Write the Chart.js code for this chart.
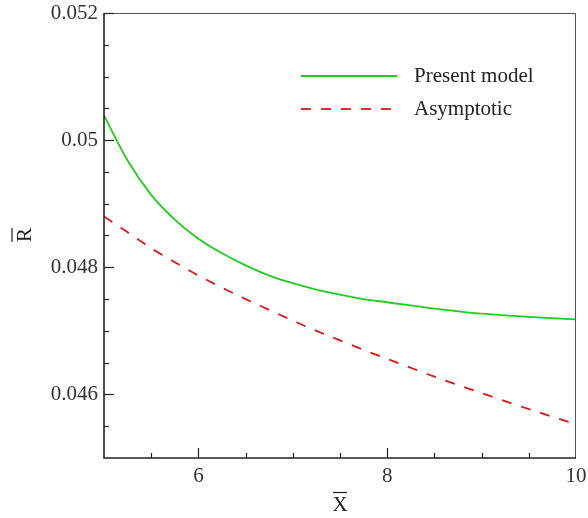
<!DOCTYPE html>
<html>
<head>
<meta charset="utf-8">
<script src="https://cdn.jsdelivr.net/npm/chart.js@4.4.0/dist/chart.umd.min.js"></script>
<style>
    html, body { margin: 0; padding: 0; background: #fff; }
    #wrap { width: 588px; height: 518px; }
</style>
</head>
<body>
<div id="wrap"><canvas id="chart" width="588" height="518"></canvas></div>
<script>
// values
var xValues      = [5.0, 5.25, 5.5, 5.75, 6.0, 6.25, 6.5, 6.75, 7.0, 7.25, 7.5, 7.75, 8.0, 8.5, 9.0, 9.5, 10.0];
var presentModel = [0.05039, 0.04968, 0.04914, 0.04875, 0.04845, 0.04822, 0.04803, 0.04787, 0.04775, 0.04765, 0.04757, 0.04750, 0.04745, 0.04735, 0.04727, 0.04722, 0.04718];
var asymptotic   = [0.04880, 0.04855, 0.04830, 0.04808, 0.04787, 0.04768, 0.04750, 0.04733, 0.04716, 0.04700, 0.04685, 0.04670, 0.04656, 0.04628, 0.04602, 0.04577, 0.04553];
var seriesNames  = ["Present model", "Asymptotic"];
var xTickValues  = [6, 8, 10];
var yTickValues  = [0.046, 0.048, 0.05, 0.052];
var xTitle = "X";
var yTitle = "R";

var serif = "'Liberation Serif', 'Times New Roman', serif";
var green = "#1fcc1f";
var red = "#d81818";

function points(ys) {
    return xValues.map(function(x, i) { return { x: x, y: ys[i] }; });
}

// minor/major inward ticks, frame, axis titles with overbars, legend
var decorations = {
    id: "decorations",
    afterDraw: function(chart) {
        var ctx = chart.ctx, a = chart.chartArea;
        var xs = chart.scales.x, ys = chart.scales.y;
        ctx.save();

        // frame
        ctx.strokeStyle = "#555";
        ctx.lineWidth = 1;
        ctx.beginPath();
        ctx.moveTo(a.left, a.top + 0.5); ctx.lineTo(a.right - 0.5, a.top + 0.5);
        ctx.lineTo(a.right - 0.5, a.bottom);
        ctx.stroke();
        ctx.strokeStyle = "#222";
        ctx.lineWidth = 1.6;
        ctx.beginPath();
        ctx.moveTo(a.left, a.top); ctx.lineTo(a.left, a.bottom); ctx.lineTo(a.right, a.bottom);
        ctx.stroke();

        // ticks
        ctx.lineWidth = 1.2;
        ctx.strokeStyle = "#222";
        var i, v, p, len;
        for (i = 1; i < 10; i++) {
            v = xs.min + i * 0.5;
            p = Math.round(xs.getPixelForValue(v)) + 0.5;
            len = (i % 4 === 2) ? 10 : 5;
            ctx.beginPath(); ctx.moveTo(p, a.bottom); ctx.lineTo(p, a.bottom - len); ctx.stroke();
        }
        for (i = 1; i <= 14; i++) {
            v = ys.min + i * 0.0005;
            p = Math.round(ys.getPixelForValue(v)) + 0.5;
            len = (i % 4 === 2) ? 10 : 5;
            ctx.beginPath(); ctx.moveTo(a.left, p); ctx.lineTo(a.left + len, p); ctx.stroke();
        }

        // axis titles
        ctx.fillStyle = "#222";
        ctx.strokeStyle = "#222";
        ctx.lineWidth = 1.2;
        ctx.font = "21px " + serif;
        ctx.textAlign = "center";
        ctx.textBaseline = "middle";
        var cx = (a.left + a.right) / 2;
        ctx.fillText(xTitle, cx, 505);
        ctx.beginPath(); ctx.moveTo(cx - 7, 492.5); ctx.lineTo(cx + 7, 492.5); ctx.stroke();

        ctx.save();
        ctx.translate(25, 235);
        ctx.rotate(-Math.PI / 2);
        ctx.fillText(yTitle, 0, 0);
        ctx.beginPath(); ctx.moveTo(-7, -13); ctx.lineTo(7, -13); ctx.stroke();
        ctx.restore();

        // legend
        ctx.textAlign = "left";
        ctx.font = "21px " + serif;
        chart.data.datasets.forEach(function(ds, k) {
            var y = 76 + k * 33;
            ctx.strokeStyle = ds.borderColor;
            ctx.lineWidth = ds.borderWidth;
            ctx.setLineDash(ds.borderDash || []);
            ctx.beginPath(); ctx.moveTo(301, y); ctx.lineTo(397, y); ctx.stroke();
            ctx.setLineDash([]);
            ctx.fillStyle = "#222";
            ctx.fillText(ds.label, 414, y);
        });
        ctx.restore();
    }
};

new Chart(document.getElementById("chart").getContext("2d"), {
    type: "line",
    data: {
        datasets: [{
            label: seriesNames[0],
            data: points(presentModel),
            borderColor: green,
            borderWidth: 1.8,
            pointRadius: 0,
            cubicInterpolationMode: "monotone",
            fill: false
        }, {
            label: seriesNames[1],
            data: points(asymptotic),
            borderColor: red,
            borderWidth: 1.8,
            borderDash: [10, 10],
            pointRadius: 0,
            cubicInterpolationMode: "monotone",
            fill: false
        }]
    },
    options: {
        responsive: false,
        animation: false,
        devicePixelRatio: 1,
        layout: { padding: { top: 13, right: 12, left: 0, bottom: 0 } },
        plugins: {
            legend: { display: false },
            tooltip: { enabled: false }
        },
        scales: {
            x: {
                type: "linear",
                min: 5,
                max: 10,
                afterFit: function(s) { s.height = 60; s.paddingLeft = 0; s.paddingRight = 0; },
                afterBuildTicks: function(s) { s.ticks = xTickValues.map(function(v) { return { value: v }; }); },
                grid: { display: false, drawTicks: false },
                border: { display: false },
                ticks: {
                    padding: 6,
                    color: "#333",
                    font: { family: serif, size: 21 },
                    maxRotation: 0,
                    callback: function(v) { return String(v); }
                }
            },
            y: {
                min: 0.045,
                max: 0.052,
                afterFit: function(s) { s.width = 104; s.paddingTop = 0; s.paddingBottom = 0; },
                afterBuildTicks: function(s) { s.ticks = yTickValues.map(function(v) { return { value: v }; }); },
                grid: { display: false, drawTicks: false },
                border: { display: false },
                ticks: {
                    padding: 6,
                    color: "#333",
                    font: { family: serif, size: 21 },
                    callback: function(v) { return String(+v.toFixed(3)); }
                }
            }
        }
    },
    plugins: [decorations]
});
</script>
</body>
</html>
